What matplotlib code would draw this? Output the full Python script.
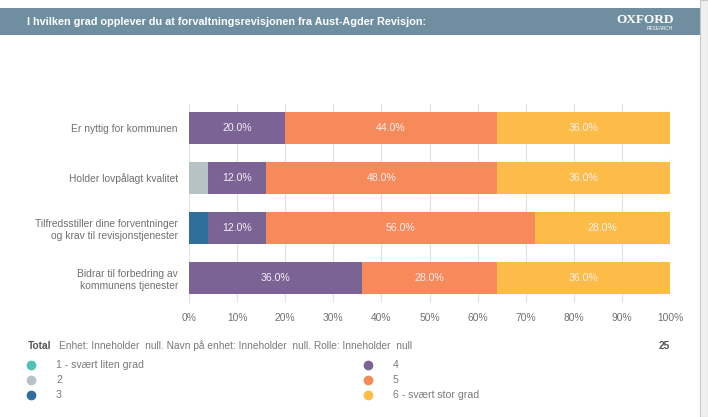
import matplotlib.pyplot as plt
from matplotlib.patches import Rectangle

categories = ['Er nyttig for kommunen',
              'Holder lovpålagt kvalitet',
              'Tilfredsstiller dine forventninger\nog krav til revisjonstjenester',
              'Bidrar til forbedring av\nkommunens tjenester']
series_names = ['1 - svært liten grad', '2', '3', '4', '5', '6 - svært stor grad']
series_values = [
    [0, 0, 0, 0],
    [0, 4, 0, 0],
    [0, 0, 4, 0],
    [20, 12, 12, 36],
    [44, 48, 56, 28],
    [36, 36, 28, 36],
]
colors = ['#4cc3b4', '#b6c2c5', '#2f6f9c', '#7b6395', '#f68a5a', '#fdbb48']
xticks = [0, 10, 20, 30, 40, 50, 60, 70, 80, 90, 100]
title = 'I hvilken grad opplever du at forvaltningsrevisjonen fra Aust-Agder Revisjon:'
footer = 'Enhet: Inneholder  null. Navn på enhet: Inneholder  null. Rolle: Inneholder  null'
total_n = 25

plt.rcParams['font.family'] = ['Liberation Sans', 'DejaVu Sans']

W, H = 708, 417
fig = plt.figure(figsize=(W / 100, H / 100), dpi=100)

# header band and right strip
fig.patches.append(Rectangle((0, 1 - 35 / H), 700 / W, 27 / H, transform=fig.transFigure,
                             facecolor='#6f8fa1', edgecolor='none'))
fig.patches.append(Rectangle((700 / W, 0), 8 / W, 1, transform=fig.transFigure,
                             facecolor='#f0f0f0', edgecolor='#c8c8c8', linewidth=0.8))
fig.text(27 / W, 1 - 22 / H, title, color='white', fontsize=7.8, fontweight='bold',
         va='center')
fig.text(645 / W, 1 - 20 / H, 'OXFORD', color='white', fontsize=9.5,
         family='Liberation Serif', va='center', ha='center', fontweight='bold')
fig.text(660 / W, 1 - 29 / H, 'RESEARCH', color='white', fontsize=3.4,
         va='center', ha='center', fontstyle='italic')

ax = fig.add_axes([189 / W, 1 - 303 / H, 481 / W, 199 / H])
y = list(range(len(categories)))
left = [0] * len(categories)
for name, vals, c in zip(series_names, series_values, colors):
    bars = ax.barh(y, vals, left=left, height=0.64, color=c, label=name, zorder=3)
    for b, v in zip(bars, vals):
        if v >= 10:
            ax.text(b.get_x() + b.get_width() / 2, b.get_y() + b.get_height() / 2,
                    f'{v:.1f}%', color='#f4f0f4', fontsize=7.6, ha='center', va='center', zorder=4)
    left = [l + v for l, v in zip(left, vals)]

ax.set_xlim(0, 100)
ax.set_ylim(3.5, -0.48)
ax.set_xticks(xticks)
ax.set_xticklabels([f'{t}%' for t in xticks])
ax.set_yticks(y)
ax.set_yticklabels(categories)
ax.tick_params(axis='both', length=0, labelsize=7.4, labelcolor='#707070')
ax.tick_params(axis='y', pad=8)
ax.tick_params(axis='x', pad=7)
ax.grid(axis='x', color='#e3e3e3', linewidth=0.9, zorder=0)
for s in ax.spines.values():
    s.set_visible(False)

# footer
fig.text(28 / W, 1 - 346 / H, 'Total', fontsize=7.3, fontweight='bold', color='#555555', va='center')
fig.text(59 / W, 1 - 346 / H, footer, fontsize=7.3, color='#7a7a7a', va='center')
fig.text(670 / W, 1 - 346 / H, str(total_n), fontsize=7.3, fontweight='bold',
         color='#555555', va='center', ha='right')

leg_pos = [(31, 365), (31, 380), (31, 395), (368, 365), (368, 380), (368, 395)]
for (px, py), name, c in zip(leg_pos, series_names, colors):
    fig.add_artist(plt.Line2D([px / W], [1 - py / H], marker='o', markersize=6,
                              color=c, linestyle='none', transform=fig.transFigure))
    fig.text((px + 25) / W, 1 - py / H, name, fontsize=7.6, color='#7a7a7a', va='center')

fig.savefig('out.png', dpi=100)
